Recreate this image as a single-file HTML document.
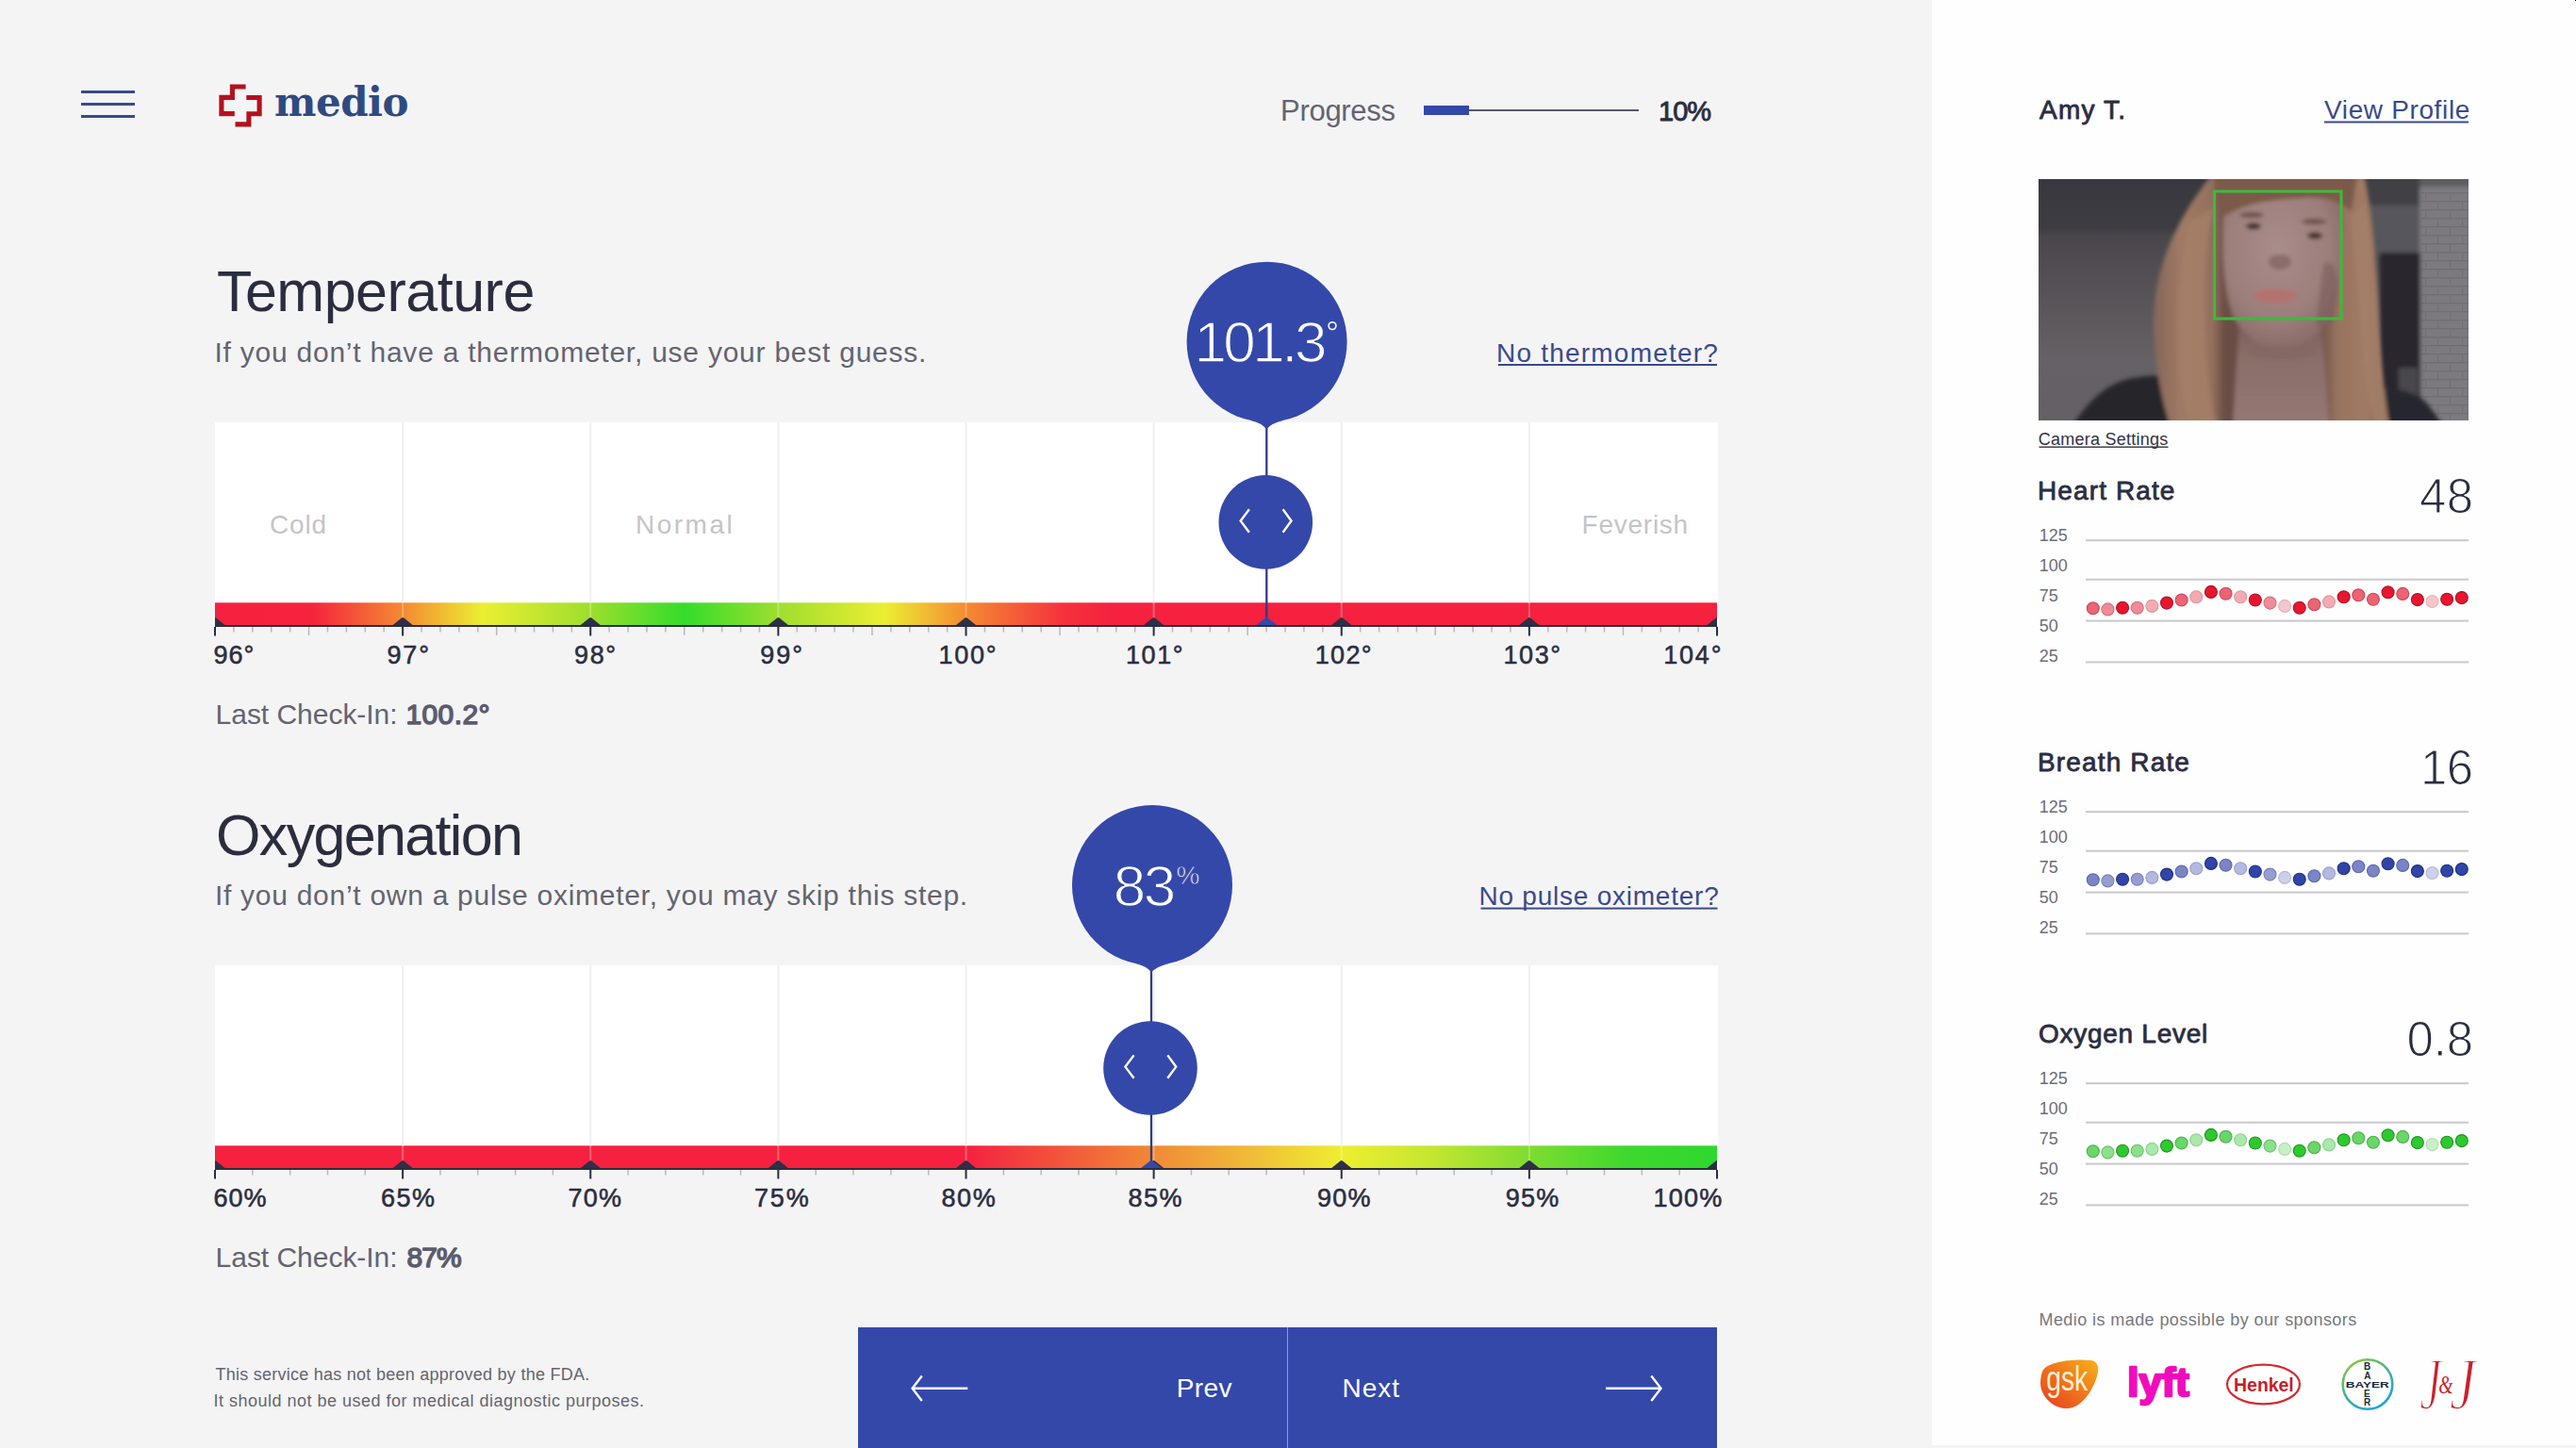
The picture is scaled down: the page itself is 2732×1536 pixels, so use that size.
<!DOCTYPE html>
<html><head><meta charset="utf-8"><title>Medio</title>
<style>html,body{margin:0;padding:0;background:#f4f4f5;} body{width:2732px;height:1536px;overflow:hidden;font-family:"Liberation Sans",sans-serif;} svg{display:block}</style>
</head><body>
<svg width="2732" height="1536" viewBox="0 0 2732 1536">
<rect width='2732' height='1536' fill='#f4f4f5'/>
<rect x='2049' y='0' width='683' height='1533' fill='#fefefe'/>
<rect x='86' y='96' width='57' height='3' fill='#3b4a8a'/>
<rect x='86' y='109' width='57' height='3' fill='#3b4a8a'/>
<rect x='86' y='122' width='57' height='3' fill='#3b4a8a'/>
<g fill='none' stroke='#b3111f' stroke-width='5.1' stroke-linejoin='miter' stroke-linecap='butt'><path d='M260.6,92 H246.4 V103.4 H234.9 V120.6 H248.8'/><path d='M261.3,103.5 H275.1 V120.7 H263.9 V131.9 H249.5'/></g>
<rect x='1510' y='112' width='48' height='10' fill='#3448aa'/>
<rect x='1558' y='116' width='180' height='2' fill='#565966'/>
<rect x='228.0' y='448' width='1594.0' height='215' fill='#ffffff'/><linearGradient id='gT' x1='228.0' x2='1821.0' y1='0' y2='0' gradientUnits='userSpaceOnUse'><stop offset='0' stop-color='#f5213f'/><stop offset='0.065' stop-color='#f5243d'/><stop offset='0.125' stop-color='#f48a32'/><stop offset='0.178' stop-color='#ecee32'/><stop offset='0.25' stop-color='#9ede2e'/><stop offset='0.3125' stop-color='#34dc2b'/><stop offset='0.375' stop-color='#9ede2e'/><stop offset='0.446' stop-color='#ecee32'/><stop offset='0.5' stop-color='#f48a32'/><stop offset='0.565' stop-color='#f5313d'/><stop offset='0.6' stop-color='#f5213f'/><stop offset='1' stop-color='#f5213f'/></linearGradient><rect x='228.0' y='639.3' width='1593.0' height='23.700000000000045' fill='url(#gT)'/><rect x='426.12' y='448' width='2' height='191.3' fill='#efeff2'/><rect x='426.12' y='639.3' width='2' height='17.7' fill='#ffffff' fill-opacity='0.28'/><rect x='625.25' y='448' width='2' height='191.3' fill='#efeff2'/><rect x='625.25' y='639.3' width='2' height='17.7' fill='#ffffff' fill-opacity='0.28'/><rect x='824.38' y='448' width='2' height='191.3' fill='#efeff2'/><rect x='824.38' y='639.3' width='2' height='17.7' fill='#ffffff' fill-opacity='0.28'/><rect x='1023.50' y='448' width='2' height='191.3' fill='#efeff2'/><rect x='1023.50' y='639.3' width='2' height='17.7' fill='#ffffff' fill-opacity='0.28'/><rect x='1222.62' y='448' width='2' height='191.3' fill='#efeff2'/><rect x='1222.62' y='639.3' width='2' height='17.7' fill='#ffffff' fill-opacity='0.28'/><rect x='1421.75' y='448' width='2' height='191.3' fill='#efeff2'/><rect x='1421.75' y='639.3' width='2' height='17.7' fill='#ffffff' fill-opacity='0.28'/><rect x='1620.88' y='448' width='2' height='191.3' fill='#efeff2'/><rect x='1620.88' y='639.3' width='2' height='17.7' fill='#ffffff' fill-opacity='0.28'/><clipPath id='cgT'><rect x='228.0' y='639.3' width='1593.0' height='30'/></clipPath><g clip-path='url(#cgT)' fill='#2d3047'><path d='M217.50,663 L226.80,655.6 Q228.00,654.6 229.20,655.6 L238.50,663 Z'/><path d='M416.62,663 L425.93,655.6 Q427.12,654.6 428.32,655.6 L437.62,663 Z'/><path d='M615.75,663 L625.05,655.6 Q626.25,654.6 627.45,655.6 L636.75,663 Z'/><path d='M814.88,663 L824.17,655.6 Q825.38,654.6 826.58,655.6 L835.88,663 Z'/><path d='M1014.00,663 L1023.30,655.6 Q1024.50,654.6 1025.70,655.6 L1035.00,663 Z'/><path d='M1213.12,663 L1222.42,655.6 Q1223.62,654.6 1224.83,655.6 L1234.12,663 Z'/><path d='M1412.25,663 L1421.55,655.6 Q1422.75,654.6 1423.95,655.6 L1433.25,663 Z'/><path d='M1611.38,663 L1620.67,655.6 Q1621.88,654.6 1623.08,655.6 L1632.38,663 Z'/><path d='M1810.50,663 L1819.80,655.6 Q1821.00,654.6 1822.20,655.6 L1831.50,663 Z'/></g><rect x='228.0' y='663' width='1593.0' height='2' fill='#2b2d42'/><rect x='227.00' y='665' width='2' height='9.5' fill='#2b2d42'/><rect x='247.16' y='665' width='1.5' height='5.5' fill='#b8b8c0'/><rect x='267.07' y='665' width='1.5' height='5.5' fill='#b8b8c0'/><rect x='286.99' y='665' width='1.5' height='5.5' fill='#b8b8c0'/><rect x='306.90' y='665' width='1.5' height='5.5' fill='#b8b8c0'/><rect x='326.81' y='665' width='1.5' height='9' fill='#b8b8c0'/><rect x='346.73' y='665' width='1.5' height='5.5' fill='#b8b8c0'/><rect x='366.64' y='665' width='1.5' height='5.5' fill='#b8b8c0'/><rect x='386.55' y='665' width='1.5' height='5.5' fill='#b8b8c0'/><rect x='406.46' y='665' width='1.5' height='5.5' fill='#b8b8c0'/><rect x='426.12' y='665' width='2' height='9.5' fill='#2b2d42'/><rect x='446.29' y='665' width='1.5' height='5.5' fill='#b8b8c0'/><rect x='466.20' y='665' width='1.5' height='5.5' fill='#b8b8c0'/><rect x='486.11' y='665' width='1.5' height='5.5' fill='#b8b8c0'/><rect x='506.02' y='665' width='1.5' height='5.5' fill='#b8b8c0'/><rect x='525.94' y='665' width='1.5' height='9' fill='#b8b8c0'/><rect x='545.85' y='665' width='1.5' height='5.5' fill='#b8b8c0'/><rect x='565.76' y='665' width='1.5' height='5.5' fill='#b8b8c0'/><rect x='585.67' y='665' width='1.5' height='5.5' fill='#b8b8c0'/><rect x='605.59' y='665' width='1.5' height='5.5' fill='#b8b8c0'/><rect x='625.25' y='665' width='2' height='9.5' fill='#2b2d42'/><rect x='645.41' y='665' width='1.5' height='5.5' fill='#b8b8c0'/><rect x='665.33' y='665' width='1.5' height='5.5' fill='#b8b8c0'/><rect x='685.24' y='665' width='1.5' height='5.5' fill='#b8b8c0'/><rect x='705.15' y='665' width='1.5' height='5.5' fill='#b8b8c0'/><rect x='725.06' y='665' width='1.5' height='9' fill='#b8b8c0'/><rect x='744.98' y='665' width='1.5' height='5.5' fill='#b8b8c0'/><rect x='764.89' y='665' width='1.5' height='5.5' fill='#b8b8c0'/><rect x='784.80' y='665' width='1.5' height='5.5' fill='#b8b8c0'/><rect x='804.71' y='665' width='1.5' height='5.5' fill='#b8b8c0'/><rect x='824.38' y='665' width='2' height='9.5' fill='#2b2d42'/><rect x='844.54' y='665' width='1.5' height='5.5' fill='#b8b8c0'/><rect x='864.45' y='665' width='1.5' height='5.5' fill='#b8b8c0'/><rect x='884.36' y='665' width='1.5' height='5.5' fill='#b8b8c0'/><rect x='904.27' y='665' width='1.5' height='5.5' fill='#b8b8c0'/><rect x='924.19' y='665' width='1.5' height='9' fill='#b8b8c0'/><rect x='944.10' y='665' width='1.5' height='5.5' fill='#b8b8c0'/><rect x='964.01' y='665' width='1.5' height='5.5' fill='#b8b8c0'/><rect x='983.92' y='665' width='1.5' height='5.5' fill='#b8b8c0'/><rect x='1003.84' y='665' width='1.5' height='5.5' fill='#b8b8c0'/><rect x='1023.50' y='665' width='2' height='9.5' fill='#2b2d42'/><rect x='1043.66' y='665' width='1.5' height='5.5' fill='#b8b8c0'/><rect x='1063.58' y='665' width='1.5' height='5.5' fill='#b8b8c0'/><rect x='1083.49' y='665' width='1.5' height='5.5' fill='#b8b8c0'/><rect x='1103.40' y='665' width='1.5' height='5.5' fill='#b8b8c0'/><rect x='1123.31' y='665' width='1.5' height='9' fill='#b8b8c0'/><rect x='1143.22' y='665' width='1.5' height='5.5' fill='#b8b8c0'/><rect x='1163.14' y='665' width='1.5' height='5.5' fill='#b8b8c0'/><rect x='1183.05' y='665' width='1.5' height='5.5' fill='#b8b8c0'/><rect x='1202.96' y='665' width='1.5' height='5.5' fill='#b8b8c0'/><rect x='1222.62' y='665' width='2' height='9.5' fill='#2b2d42'/><rect x='1242.79' y='665' width='1.5' height='5.5' fill='#b8b8c0'/><rect x='1262.70' y='665' width='1.5' height='5.5' fill='#b8b8c0'/><rect x='1282.61' y='665' width='1.5' height='5.5' fill='#b8b8c0'/><rect x='1302.53' y='665' width='1.5' height='5.5' fill='#b8b8c0'/><rect x='1322.44' y='665' width='1.5' height='9' fill='#b8b8c0'/><rect x='1342.35' y='665' width='1.5' height='5.5' fill='#b8b8c0'/><rect x='1362.26' y='665' width='1.5' height='5.5' fill='#b8b8c0'/><rect x='1382.17' y='665' width='1.5' height='5.5' fill='#b8b8c0'/><rect x='1402.09' y='665' width='1.5' height='5.5' fill='#b8b8c0'/><rect x='1421.75' y='665' width='2' height='9.5' fill='#2b2d42'/><rect x='1441.91' y='665' width='1.5' height='5.5' fill='#b8b8c0'/><rect x='1461.83' y='665' width='1.5' height='5.5' fill='#b8b8c0'/><rect x='1481.74' y='665' width='1.5' height='5.5' fill='#b8b8c0'/><rect x='1501.65' y='665' width='1.5' height='5.5' fill='#b8b8c0'/><rect x='1521.56' y='665' width='1.5' height='9' fill='#b8b8c0'/><rect x='1541.47' y='665' width='1.5' height='5.5' fill='#b8b8c0'/><rect x='1561.39' y='665' width='1.5' height='5.5' fill='#b8b8c0'/><rect x='1581.30' y='665' width='1.5' height='5.5' fill='#b8b8c0'/><rect x='1601.21' y='665' width='1.5' height='5.5' fill='#b8b8c0'/><rect x='1620.88' y='665' width='2' height='9.5' fill='#2b2d42'/><rect x='1641.04' y='665' width='1.5' height='5.5' fill='#b8b8c0'/><rect x='1660.95' y='665' width='1.5' height='5.5' fill='#b8b8c0'/><rect x='1680.86' y='665' width='1.5' height='5.5' fill='#b8b8c0'/><rect x='1700.78' y='665' width='1.5' height='5.5' fill='#b8b8c0'/><rect x='1720.69' y='665' width='1.5' height='9' fill='#b8b8c0'/><rect x='1740.60' y='665' width='1.5' height='5.5' fill='#b8b8c0'/><rect x='1760.51' y='665' width='1.5' height='5.5' fill='#b8b8c0'/><rect x='1780.42' y='665' width='1.5' height='5.5' fill='#b8b8c0'/><rect x='1800.34' y='665' width='1.5' height='5.5' fill='#b8b8c0'/><rect x='1820.00' y='665' width='2' height='9.5' fill='#2b2d42'/><rect x='1342.15' y='447.7' width='2.3' height='215.3' fill='#313c82'/><path d='M1332.30,663 L1342.10,655.4 Q1343.30,654.4 1344.50,655.4 L1354.30,663 Z' fill='#3448aa'/><circle cx='1342.30' cy='553.90' r='49.8' fill='#3448aa'/><g fill='none' stroke='#fff' stroke-width='2.4' stroke-linecap='butt' stroke-linejoin='miter'><polyline points='1324.90,540.30 1315.70,552.50 1324.90,564.70'/><polyline points='1360.60,540.30 1369.50,552.50 1360.60,564.70'/></g><circle cx='1343.6' cy='362.7' r='85' fill='#3448aa'/><path d='M1326.6,445.9 Q1338.6,448.7 1343.10,455.29999999999995 Q1348.6,448.7 1360.6,445.9 Z' fill='#3448aa'/>
<rect x='228.0' y='1024' width='1594.0' height='215' fill='#ffffff'/><linearGradient id='gO' x1='228.0' x2='1821.0' y1='0' y2='0' gradientUnits='userSpaceOnUse'><stop offset='0' stop-color='#f5213f'/><stop offset='0.5' stop-color='#f5213f'/><stop offset='0.53' stop-color='#f43a3e'/><stop offset='0.58' stop-color='#f2633a'/><stop offset='0.625' stop-color='#f08a36'/><stop offset='0.69' stop-color='#f0bc38'/><stop offset='0.75' stop-color='#eeee30'/><stop offset='0.81' stop-color='#c4e630'/><stop offset='0.875' stop-color='#7fdc30'/><stop offset='0.94' stop-color='#3ed82e'/><stop offset='1' stop-color='#2ed82e'/></linearGradient><rect x='228.0' y='1215.3' width='1593.0' height='23.700000000000045' fill='url(#gO)'/><rect x='426.12' y='1024' width='2' height='191.3' fill='#efeff2'/><rect x='426.12' y='1215.3' width='2' height='17.7' fill='#ffffff' fill-opacity='0.28'/><rect x='625.25' y='1024' width='2' height='191.3' fill='#efeff2'/><rect x='625.25' y='1215.3' width='2' height='17.7' fill='#ffffff' fill-opacity='0.28'/><rect x='824.38' y='1024' width='2' height='191.3' fill='#efeff2'/><rect x='824.38' y='1215.3' width='2' height='17.7' fill='#ffffff' fill-opacity='0.28'/><rect x='1023.50' y='1024' width='2' height='191.3' fill='#efeff2'/><rect x='1023.50' y='1215.3' width='2' height='17.7' fill='#ffffff' fill-opacity='0.28'/><rect x='1222.62' y='1024' width='2' height='191.3' fill='#efeff2'/><rect x='1222.62' y='1215.3' width='2' height='17.7' fill='#ffffff' fill-opacity='0.28'/><rect x='1421.75' y='1024' width='2' height='191.3' fill='#efeff2'/><rect x='1421.75' y='1215.3' width='2' height='17.7' fill='#ffffff' fill-opacity='0.28'/><rect x='1620.88' y='1024' width='2' height='191.3' fill='#efeff2'/><rect x='1620.88' y='1215.3' width='2' height='17.7' fill='#ffffff' fill-opacity='0.28'/><clipPath id='cgO'><rect x='228.0' y='1215.3' width='1593.0' height='30'/></clipPath><g clip-path='url(#cgO)' fill='#2d3047'><path d='M217.50,1239 L226.80,1231.6 Q228.00,1230.6 229.20,1231.6 L238.50,1239 Z'/><path d='M416.62,1239 L425.93,1231.6 Q427.12,1230.6 428.32,1231.6 L437.62,1239 Z'/><path d='M615.75,1239 L625.05,1231.6 Q626.25,1230.6 627.45,1231.6 L636.75,1239 Z'/><path d='M814.88,1239 L824.17,1231.6 Q825.38,1230.6 826.58,1231.6 L835.88,1239 Z'/><path d='M1014.00,1239 L1023.30,1231.6 Q1024.50,1230.6 1025.70,1231.6 L1035.00,1239 Z'/><path d='M1213.12,1239 L1222.42,1231.6 Q1223.62,1230.6 1224.83,1231.6 L1234.12,1239 Z'/><path d='M1412.25,1239 L1421.55,1231.6 Q1422.75,1230.6 1423.95,1231.6 L1433.25,1239 Z'/><path d='M1611.38,1239 L1620.67,1231.6 Q1621.88,1230.6 1623.08,1231.6 L1632.38,1239 Z'/><path d='M1810.50,1239 L1819.80,1231.6 Q1821.00,1230.6 1822.20,1231.6 L1831.50,1239 Z'/></g><rect x='228.0' y='1239' width='1593.0' height='2' fill='#2b2d42'/><rect x='227.00' y='1241' width='2' height='9.5' fill='#2b2d42'/><rect x='267.07' y='1241' width='1.5' height='5.5' fill='#b8b8c0'/><rect x='306.90' y='1241' width='1.5' height='5.5' fill='#b8b8c0'/><rect x='346.73' y='1241' width='1.5' height='5.5' fill='#b8b8c0'/><rect x='386.55' y='1241' width='1.5' height='5.5' fill='#b8b8c0'/><rect x='426.12' y='1241' width='2' height='9.5' fill='#2b2d42'/><rect x='466.20' y='1241' width='1.5' height='5.5' fill='#b8b8c0'/><rect x='506.02' y='1241' width='1.5' height='5.5' fill='#b8b8c0'/><rect x='545.85' y='1241' width='1.5' height='5.5' fill='#b8b8c0'/><rect x='585.67' y='1241' width='1.5' height='5.5' fill='#b8b8c0'/><rect x='625.25' y='1241' width='2' height='9.5' fill='#2b2d42'/><rect x='665.33' y='1241' width='1.5' height='5.5' fill='#b8b8c0'/><rect x='705.15' y='1241' width='1.5' height='5.5' fill='#b8b8c0'/><rect x='744.98' y='1241' width='1.5' height='5.5' fill='#b8b8c0'/><rect x='784.80' y='1241' width='1.5' height='5.5' fill='#b8b8c0'/><rect x='824.38' y='1241' width='2' height='9.5' fill='#2b2d42'/><rect x='864.45' y='1241' width='1.5' height='5.5' fill='#b8b8c0'/><rect x='904.27' y='1241' width='1.5' height='5.5' fill='#b8b8c0'/><rect x='944.10' y='1241' width='1.5' height='5.5' fill='#b8b8c0'/><rect x='983.92' y='1241' width='1.5' height='5.5' fill='#b8b8c0'/><rect x='1023.50' y='1241' width='2' height='9.5' fill='#2b2d42'/><rect x='1063.58' y='1241' width='1.5' height='5.5' fill='#b8b8c0'/><rect x='1103.40' y='1241' width='1.5' height='5.5' fill='#b8b8c0'/><rect x='1143.22' y='1241' width='1.5' height='5.5' fill='#b8b8c0'/><rect x='1183.05' y='1241' width='1.5' height='5.5' fill='#b8b8c0'/><rect x='1222.62' y='1241' width='2' height='9.5' fill='#2b2d42'/><rect x='1262.70' y='1241' width='1.5' height='5.5' fill='#b8b8c0'/><rect x='1302.53' y='1241' width='1.5' height='5.5' fill='#b8b8c0'/><rect x='1342.35' y='1241' width='1.5' height='5.5' fill='#b8b8c0'/><rect x='1382.17' y='1241' width='1.5' height='5.5' fill='#b8b8c0'/><rect x='1421.75' y='1241' width='2' height='9.5' fill='#2b2d42'/><rect x='1461.83' y='1241' width='1.5' height='5.5' fill='#b8b8c0'/><rect x='1501.65' y='1241' width='1.5' height='5.5' fill='#b8b8c0'/><rect x='1541.47' y='1241' width='1.5' height='5.5' fill='#b8b8c0'/><rect x='1581.30' y='1241' width='1.5' height='5.5' fill='#b8b8c0'/><rect x='1620.88' y='1241' width='2' height='9.5' fill='#2b2d42'/><rect x='1660.95' y='1241' width='1.5' height='5.5' fill='#b8b8c0'/><rect x='1700.78' y='1241' width='1.5' height='5.5' fill='#b8b8c0'/><rect x='1740.60' y='1241' width='1.5' height='5.5' fill='#b8b8c0'/><rect x='1780.42' y='1241' width='1.5' height='5.5' fill='#b8b8c0'/><rect x='1820.00' y='1241' width='2' height='9.5' fill='#2b2d42'/><rect x='1219.85' y='1024.0' width='2.3' height='215.0' fill='#313c82'/><path d='M1210.00,1239 L1219.80,1231.4 Q1221.00,1230.4 1222.20,1231.4 L1232.00,1239 Z' fill='#3448aa'/><circle cx='1220.00' cy='1133.00' r='49.8' fill='#3448aa'/><g fill='none' stroke='#fff' stroke-width='2.4' stroke-linecap='butt' stroke-linejoin='miter'><polyline points='1202.60,1119.40 1193.40,1131.60 1202.60,1143.80'/><polyline points='1238.30,1119.40 1247.20,1131.60 1238.30,1143.80'/></g><circle cx='1222.0' cy='939.0' r='85' fill='#3448aa'/><path d='M1205.0,1022.2 Q1217.0,1025.0 1220.80,1031.6 Q1227.0,1025.0 1239.0,1022.2 Z' fill='#3448aa'/>
<circle cx='1413' cy='345.6' r='3.9' fill='none' stroke='#fff' stroke-width='1.6'/>
<rect x='1589' y='386' width='232' height='2' fill='#3b4a8a'/>
<rect x='1570.5' y='962.6' width='251' height='2' fill='#3b4a8a'/>
<rect x='2465' y='128.5' width='153' height='2' fill='#3b4a8a'/>
<rect x='2162.5' y='473.5' width='137' height='1.4' fill='#333340'/>
<rect x='910' y='1408' width='911' height='128' fill='#3448aa'/>
<rect x='1365' y='1408' width='1' height='128' fill='#8d9ad6'/>
<g fill='none' stroke='#fff' stroke-width='2.4'><path d='M967.5,1472.8 H1026.3'/><polyline points='977.8,1459.6 967.6,1472.8 977.8,1486'/><path d='M1703,1472.7 H1761.5'/><polyline points='1751.3,1459.6 1761.5,1472.7 1751.3,1486'/></g>
<rect x='2212' y='572.2' width='406' height='2' fill='#c9c9cd'/>
<rect x='2212' y='613.7' width='406' height='2' fill='#c9c9cd'/>
<rect x='2212' y='657.6' width='406' height='2' fill='#c9c9cd'/>
<rect x='2212' y='701.4' width='406' height='2' fill='#c9c9cd'/>
<circle cx='2219.80' cy='645.20' r='6.5' fill='#ec6372' stroke='#c44a5e' stroke-width='1.1'/>
<circle cx='2235.44' cy='646.40' r='6.5' fill='#f08b97' stroke='#d4707e' stroke-width='1.1'/>
<circle cx='2251.08' cy='644.80' r='6.5' fill='#e8152d' stroke='#a8162a' stroke-width='1.1'/>
<circle cx='2266.72' cy='644.80' r='6.5' fill='#f08b97' stroke='#d4707e' stroke-width='1.1'/>
<circle cx='2282.36' cy='642.90' r='6.5' fill='#f3abb3' stroke='#dc97a0' stroke-width='1.1'/>
<circle cx='2298.00' cy='639.60' r='6.5' fill='#e8152d' stroke='#a8162a' stroke-width='1.1'/>
<circle cx='2313.64' cy='636.50' r='6.5' fill='#ec6372' stroke='#c44a5e' stroke-width='1.1'/>
<circle cx='2329.28' cy='633.20' r='6.5' fill='#f3abb3' stroke='#dc97a0' stroke-width='1.1'/>
<circle cx='2344.92' cy='627.90' r='6.5' fill='#e8152d' stroke='#a8162a' stroke-width='1.1'/>
<circle cx='2360.56' cy='629.70' r='6.5' fill='#ec6372' stroke='#c44a5e' stroke-width='1.1'/>
<circle cx='2376.20' cy='633.20' r='6.5' fill='#f3abb3' stroke='#dc97a0' stroke-width='1.1'/>
<circle cx='2391.84' cy='636.50' r='6.5' fill='#e8152d' stroke='#a8162a' stroke-width='1.1'/>
<circle cx='2407.48' cy='639.60' r='6.5' fill='#f08b97' stroke='#d4707e' stroke-width='1.1'/>
<circle cx='2423.12' cy='642.90' r='6.5' fill='#f5c6cb' stroke='#e2b4ba' stroke-width='1.1'/>
<circle cx='2438.76' cy='644.80' r='6.5' fill='#e8152d' stroke='#a8162a' stroke-width='1.1'/>
<circle cx='2454.40' cy='641.30' r='6.5' fill='#ec6372' stroke='#c44a5e' stroke-width='1.1'/>
<circle cx='2470.04' cy='638.40' r='6.5' fill='#f3abb3' stroke='#dc97a0' stroke-width='1.1'/>
<circle cx='2485.68' cy='633.20' r='6.5' fill='#e8152d' stroke='#a8162a' stroke-width='1.1'/>
<circle cx='2501.32' cy='631.20' r='6.5' fill='#ec6372' stroke='#c44a5e' stroke-width='1.1'/>
<circle cx='2516.96' cy='635.70' r='6.5' fill='#ec6372' stroke='#c44a5e' stroke-width='1.1'/>
<circle cx='2532.60' cy='628.30' r='6.5' fill='#e8152d' stroke='#a8162a' stroke-width='1.1'/>
<circle cx='2548.24' cy='629.90' r='6.5' fill='#ec6372' stroke='#c44a5e' stroke-width='1.1'/>
<circle cx='2563.88' cy='636.10' r='6.5' fill='#e8152d' stroke='#a8162a' stroke-width='1.1'/>
<circle cx='2579.52' cy='638.00' r='6.5' fill='#f5c6cb' stroke='#e2b4ba' stroke-width='1.1'/>
<circle cx='2595.16' cy='635.70' r='6.5' fill='#e8152d' stroke='#a8162a' stroke-width='1.1'/>
<circle cx='2610.80' cy='634.10' r='6.5' fill='#e8152d' stroke='#a8162a' stroke-width='1.1'/>
<rect x='2212' y='860.2' width='406' height='2' fill='#c9c9cd'/>
<rect x='2212' y='901.7' width='406' height='2' fill='#c9c9cd'/>
<rect x='2212' y='945.6' width='406' height='2' fill='#c9c9cd'/>
<rect x='2212' y='989.4' width='406' height='2' fill='#c9c9cd'/>
<circle cx='2219.80' cy='933.20' r='6.5' fill='#7a85c8' stroke='#5b66a8' stroke-width='1.1'/>
<circle cx='2235.44' cy='934.40' r='6.5' fill='#959dd2' stroke='#7880b8' stroke-width='1.1'/>
<circle cx='2251.08' cy='932.80' r='6.5' fill='#3045a8' stroke='#1f307e' stroke-width='1.1'/>
<circle cx='2266.72' cy='932.80' r='6.5' fill='#959dd2' stroke='#7880b8' stroke-width='1.1'/>
<circle cx='2282.36' cy='930.90' r='6.5' fill='#b4b9df' stroke='#9aa0cc' stroke-width='1.1'/>
<circle cx='2298.00' cy='927.60' r='6.5' fill='#3045a8' stroke='#1f307e' stroke-width='1.1'/>
<circle cx='2313.64' cy='924.50' r='6.5' fill='#7a85c8' stroke='#5b66a8' stroke-width='1.1'/>
<circle cx='2329.28' cy='921.20' r='6.5' fill='#b4b9df' stroke='#9aa0cc' stroke-width='1.1'/>
<circle cx='2344.92' cy='915.90' r='6.5' fill='#3045a8' stroke='#1f307e' stroke-width='1.1'/>
<circle cx='2360.56' cy='917.70' r='6.5' fill='#7a85c8' stroke='#5b66a8' stroke-width='1.1'/>
<circle cx='2376.20' cy='921.20' r='6.5' fill='#b4b9df' stroke='#9aa0cc' stroke-width='1.1'/>
<circle cx='2391.84' cy='924.50' r='6.5' fill='#3045a8' stroke='#1f307e' stroke-width='1.1'/>
<circle cx='2407.48' cy='927.60' r='6.5' fill='#959dd2' stroke='#7880b8' stroke-width='1.1'/>
<circle cx='2423.12' cy='930.90' r='6.5' fill='#cdd0ea' stroke='#b5b9da' stroke-width='1.1'/>
<circle cx='2438.76' cy='932.80' r='6.5' fill='#3045a8' stroke='#1f307e' stroke-width='1.1'/>
<circle cx='2454.40' cy='929.30' r='6.5' fill='#7a85c8' stroke='#5b66a8' stroke-width='1.1'/>
<circle cx='2470.04' cy='926.40' r='6.5' fill='#b4b9df' stroke='#9aa0cc' stroke-width='1.1'/>
<circle cx='2485.68' cy='921.20' r='6.5' fill='#3045a8' stroke='#1f307e' stroke-width='1.1'/>
<circle cx='2501.32' cy='919.20' r='6.5' fill='#7a85c8' stroke='#5b66a8' stroke-width='1.1'/>
<circle cx='2516.96' cy='923.70' r='6.5' fill='#7a85c8' stroke='#5b66a8' stroke-width='1.1'/>
<circle cx='2532.60' cy='916.30' r='6.5' fill='#3045a8' stroke='#1f307e' stroke-width='1.1'/>
<circle cx='2548.24' cy='917.90' r='6.5' fill='#7a85c8' stroke='#5b66a8' stroke-width='1.1'/>
<circle cx='2563.88' cy='924.10' r='6.5' fill='#3045a8' stroke='#1f307e' stroke-width='1.1'/>
<circle cx='2579.52' cy='926.00' r='6.5' fill='#cdd0ea' stroke='#b5b9da' stroke-width='1.1'/>
<circle cx='2595.16' cy='923.70' r='6.5' fill='#3045a8' stroke='#1f307e' stroke-width='1.1'/>
<circle cx='2610.80' cy='922.10' r='6.5' fill='#3045a8' stroke='#1f307e' stroke-width='1.1'/>
<rect x='2212' y='1148.2' width='406' height='2' fill='#c9c9cd'/>
<rect x='2212' y='1189.7' width='406' height='2' fill='#c9c9cd'/>
<rect x='2212' y='1233.6' width='406' height='2' fill='#c9c9cd'/>
<rect x='2212' y='1277.4' width='406' height='2' fill='#c9c9cd'/>
<circle cx='2219.80' cy='1221.20' r='6.5' fill='#69d669' stroke='#4cb04c' stroke-width='1.1'/>
<circle cx='2235.44' cy='1222.40' r='6.5' fill='#8be08b' stroke='#6cc06c' stroke-width='1.1'/>
<circle cx='2251.08' cy='1220.80' r='6.5' fill='#2ec92e' stroke='#1f961f' stroke-width='1.1'/>
<circle cx='2266.72' cy='1220.80' r='6.5' fill='#8be08b' stroke='#6cc06c' stroke-width='1.1'/>
<circle cx='2282.36' cy='1218.90' r='6.5' fill='#abe8ab' stroke='#90d090' stroke-width='1.1'/>
<circle cx='2298.00' cy='1215.60' r='6.5' fill='#2ec92e' stroke='#1f961f' stroke-width='1.1'/>
<circle cx='2313.64' cy='1212.50' r='6.5' fill='#69d669' stroke='#4cb04c' stroke-width='1.1'/>
<circle cx='2329.28' cy='1209.20' r='6.5' fill='#abe8ab' stroke='#90d090' stroke-width='1.1'/>
<circle cx='2344.92' cy='1203.90' r='6.5' fill='#2ec92e' stroke='#1f961f' stroke-width='1.1'/>
<circle cx='2360.56' cy='1205.70' r='6.5' fill='#69d669' stroke='#4cb04c' stroke-width='1.1'/>
<circle cx='2376.20' cy='1209.20' r='6.5' fill='#abe8ab' stroke='#90d090' stroke-width='1.1'/>
<circle cx='2391.84' cy='1212.50' r='6.5' fill='#2ec92e' stroke='#1f961f' stroke-width='1.1'/>
<circle cx='2407.48' cy='1215.60' r='6.5' fill='#8be08b' stroke='#6cc06c' stroke-width='1.1'/>
<circle cx='2423.12' cy='1218.90' r='6.5' fill='#c8efc8' stroke='#b0deb0' stroke-width='1.1'/>
<circle cx='2438.76' cy='1220.80' r='6.5' fill='#2ec92e' stroke='#1f961f' stroke-width='1.1'/>
<circle cx='2454.40' cy='1217.30' r='6.5' fill='#69d669' stroke='#4cb04c' stroke-width='1.1'/>
<circle cx='2470.04' cy='1214.40' r='6.5' fill='#abe8ab' stroke='#90d090' stroke-width='1.1'/>
<circle cx='2485.68' cy='1209.20' r='6.5' fill='#2ec92e' stroke='#1f961f' stroke-width='1.1'/>
<circle cx='2501.32' cy='1207.20' r='6.5' fill='#69d669' stroke='#4cb04c' stroke-width='1.1'/>
<circle cx='2516.96' cy='1211.70' r='6.5' fill='#69d669' stroke='#4cb04c' stroke-width='1.1'/>
<circle cx='2532.60' cy='1204.30' r='6.5' fill='#2ec92e' stroke='#1f961f' stroke-width='1.1'/>
<circle cx='2548.24' cy='1205.90' r='6.5' fill='#69d669' stroke='#4cb04c' stroke-width='1.1'/>
<circle cx='2563.88' cy='1212.10' r='6.5' fill='#2ec92e' stroke='#1f961f' stroke-width='1.1'/>
<circle cx='2579.52' cy='1214.00' r='6.5' fill='#c8efc8' stroke='#b0deb0' stroke-width='1.1'/>
<circle cx='2595.16' cy='1211.70' r='6.5' fill='#2ec92e' stroke='#1f961f' stroke-width='1.1'/>
<circle cx='2610.80' cy='1210.10' r='6.5' fill='#2ec92e' stroke='#1f961f' stroke-width='1.1'/>

<clipPath id='phc'><rect x='2162' y='190' width='456' height='256'/></clipPath>
<linearGradient id='phbg' x1='0' y1='0' x2='0' y2='1'><stop offset='0' stop-color='#39383e'/><stop offset='0.2' stop-color='#3d3c42'/><stop offset='0.24' stop-color='#4a474c'/><stop offset='0.5' stop-color='#585458'/><stop offset='0.75' stop-color='#656165'/><stop offset='1' stop-color='#636066'/></linearGradient>
<linearGradient id='hairg' x1='0' y1='0' x2='1' y2='0'><stop offset='0' stop-color='#84665a'/><stop offset='0.12' stop-color='#a07a64'/><stop offset='0.25' stop-color='#93705e'/><stop offset='0.3' stop-color='#6a4e44'/><stop offset='0.7' stop-color='#6a4e44'/><stop offset='0.78' stop-color='#98735f'/><stop offset='0.9' stop-color='#a07a64'/><stop offset='1' stop-color='#826458'/></linearGradient>
<radialGradient id='faceg' cx='0.45' cy='0.4' r='0.6'><stop offset='0' stop-color='#a98d8a'/><stop offset='0.7' stop-color='#9c7e7b'/><stop offset='1' stop-color='#8a6c69'/></radialGradient>
<filter id='phb' x='-10%' y='-10%' width='120%' height='120%'><feGaussianBlur stdDeviation='2.2'/></filter>
<g clip-path='url(#phc)'>
<rect x='2162' y='190' width='456' height='256' fill='url(#phbg)'/>
<g transform='translate(2162,190)'>
<g filter='url(#phb)'>
<rect x='330' y='-10' width='80' height='40' fill='#403f45'/>
<rect x='330' y='28' width='80' height='52' fill='#57565c'/>
<rect x='404' y='-10' width='60' height='280' fill='#7b7a7e'/>
<rect x='404' y='-10' width='60' height='18' fill='#5d5c61'/>
<rect x='362' y='78' width='43' height='190' fill='#29282e'/>
<rect x='382' y='200' width='20' height='40' fill='#4a494e'/>
</g>
<g opacity='0.55'><rect x='406' y='14' width='50' height='1.3' fill='#66656a'/><rect x='406' y='23' width='50' height='1.3' fill='#66656a'/><rect x='406' y='32' width='50' height='1.3' fill='#66656a'/><rect x='406' y='41' width='50' height='1.3' fill='#66656a'/><rect x='406' y='50' width='50' height='1.3' fill='#66656a'/><rect x='406' y='59' width='50' height='1.3' fill='#66656a'/><rect x='406' y='68' width='50' height='1.3' fill='#66656a'/><rect x='406' y='77' width='50' height='1.3' fill='#66656a'/><rect x='406' y='86' width='50' height='1.3' fill='#66656a'/><rect x='406' y='95' width='50' height='1.3' fill='#66656a'/><rect x='406' y='104' width='50' height='1.3' fill='#66656a'/><rect x='406' y='113' width='50' height='1.3' fill='#66656a'/><rect x='406' y='122' width='50' height='1.3' fill='#66656a'/><rect x='406' y='131' width='50' height='1.3' fill='#66656a'/><rect x='406' y='140' width='50' height='1.3' fill='#66656a'/><rect x='406' y='149' width='50' height='1.3' fill='#66656a'/><rect x='406' y='158' width='50' height='1.3' fill='#66656a'/><rect x='406' y='167' width='50' height='1.3' fill='#66656a'/><rect x='406' y='176' width='50' height='1.3' fill='#66656a'/><rect x='406' y='185' width='50' height='1.3' fill='#66656a'/><rect x='406' y='194' width='50' height='1.3' fill='#66656a'/><rect x='406' y='203' width='50' height='1.3' fill='#66656a'/><rect x='406' y='212' width='50' height='1.3' fill='#66656a'/><rect x='406' y='221' width='50' height='1.3' fill='#66656a'/><rect x='406' y='230' width='50' height='1.3' fill='#66656a'/><rect x='406' y='239' width='50' height='1.3' fill='#66656a'/><rect x='406' y='248' width='50' height='1.3' fill='#66656a'/><rect x='410' y='14' width='1.2' height='9' fill='#6a696e'/><rect x='436' y='14' width='1.2' height='9' fill='#6a696e'/><rect x='423' y='23' width='1.2' height='9' fill='#6a696e'/><rect x='449' y='23' width='1.2' height='9' fill='#6a696e'/><rect x='410' y='32' width='1.2' height='9' fill='#6a696e'/><rect x='436' y='32' width='1.2' height='9' fill='#6a696e'/><rect x='423' y='41' width='1.2' height='9' fill='#6a696e'/><rect x='449' y='41' width='1.2' height='9' fill='#6a696e'/><rect x='410' y='50' width='1.2' height='9' fill='#6a696e'/><rect x='436' y='50' width='1.2' height='9' fill='#6a696e'/><rect x='423' y='59' width='1.2' height='9' fill='#6a696e'/><rect x='449' y='59' width='1.2' height='9' fill='#6a696e'/><rect x='410' y='68' width='1.2' height='9' fill='#6a696e'/><rect x='436' y='68' width='1.2' height='9' fill='#6a696e'/><rect x='423' y='77' width='1.2' height='9' fill='#6a696e'/><rect x='449' y='77' width='1.2' height='9' fill='#6a696e'/><rect x='410' y='86' width='1.2' height='9' fill='#6a696e'/><rect x='436' y='86' width='1.2' height='9' fill='#6a696e'/><rect x='423' y='95' width='1.2' height='9' fill='#6a696e'/><rect x='449' y='95' width='1.2' height='9' fill='#6a696e'/><rect x='410' y='104' width='1.2' height='9' fill='#6a696e'/><rect x='436' y='104' width='1.2' height='9' fill='#6a696e'/><rect x='423' y='113' width='1.2' height='9' fill='#6a696e'/><rect x='449' y='113' width='1.2' height='9' fill='#6a696e'/><rect x='410' y='122' width='1.2' height='9' fill='#6a696e'/><rect x='436' y='122' width='1.2' height='9' fill='#6a696e'/><rect x='423' y='131' width='1.2' height='9' fill='#6a696e'/><rect x='449' y='131' width='1.2' height='9' fill='#6a696e'/><rect x='410' y='140' width='1.2' height='9' fill='#6a696e'/><rect x='436' y='140' width='1.2' height='9' fill='#6a696e'/><rect x='423' y='149' width='1.2' height='9' fill='#6a696e'/><rect x='449' y='149' width='1.2' height='9' fill='#6a696e'/><rect x='410' y='158' width='1.2' height='9' fill='#6a696e'/><rect x='436' y='158' width='1.2' height='9' fill='#6a696e'/><rect x='423' y='167' width='1.2' height='9' fill='#6a696e'/><rect x='449' y='167' width='1.2' height='9' fill='#6a696e'/><rect x='410' y='176' width='1.2' height='9' fill='#6a696e'/><rect x='436' y='176' width='1.2' height='9' fill='#6a696e'/><rect x='423' y='185' width='1.2' height='9' fill='#6a696e'/><rect x='449' y='185' width='1.2' height='9' fill='#6a696e'/><rect x='410' y='194' width='1.2' height='9' fill='#6a696e'/><rect x='436' y='194' width='1.2' height='9' fill='#6a696e'/><rect x='423' y='203' width='1.2' height='9' fill='#6a696e'/><rect x='449' y='203' width='1.2' height='9' fill='#6a696e'/><rect x='410' y='212' width='1.2' height='9' fill='#6a696e'/><rect x='436' y='212' width='1.2' height='9' fill='#6a696e'/><rect x='423' y='221' width='1.2' height='9' fill='#6a696e'/><rect x='449' y='221' width='1.2' height='9' fill='#6a696e'/><rect x='410' y='230' width='1.2' height='9' fill='#6a696e'/><rect x='436' y='230' width='1.2' height='9' fill='#6a696e'/><rect x='423' y='239' width='1.2' height='9' fill='#6a696e'/><rect x='449' y='239' width='1.2' height='9' fill='#6a696e'/><rect x='410' y='248' width='1.2' height='9' fill='#6a696e'/><rect x='436' y='248' width='1.2' height='9' fill='#6a696e'/></g>
<g filter='url(#phb)'>
<path d='M36,262 C52,236 72,216 100,211 C130,205 165,210 195,222 L222,262 Z' fill='#26252c'/>
<path d='M292,262 C305,240 330,228 360,224 C385,221 402,228 412,238 L430,262 Z' fill='#28272e'/>
<path d='M184,-5 L345,-5 C356,40 360,110 362,170 C365,215 369,240 372,262 L300,262 L300,210 L218,210 L206,262 L140,262 C130,235 121,185 122,145 C124,100 140,50 184,-5 Z' fill='url(#hairg)'/>
<path d='M160,45 C148,95 146,160 150,210 C153,235 158,250 162,262 L190,262 C180,230 176,180 176,120 C176,80 180,50 186,30 Z' fill='#a68068' opacity='0.8'/>
<path d='M330,40 C338,100 342,170 348,220 C351,240 355,252 358,262 L372,262 C367,230 362,180 358,120 C355,80 352,50 346,25 Z' fill='#a68068' opacity='0.75'/>
<linearGradient id='neckg' x1='0' y1='0' x2='0' y2='1'><stop offset='0' stop-color='#765c58'/><stop offset='0.35' stop-color='#8a6e6a'/><stop offset='1' stop-color='#957874'/></linearGradient><path d='M206,262 L213,150 L300,150 L308,262 Z' fill='url(#neckg)'/>
<path d='M196,40 C196,12 230,4 262,4 C298,4 324,14 324,46 C324,96 318,140 300,160 C286,176 270,180 258,180 C240,180 222,170 210,152 C198,132 194,90 196,40 Z' fill='url(#faceg)'/>
<path d='M186,-5 L338,-5 L332,34 C318,22 300,18 280,20 C250,22 222,24 200,38 L190,40 Z' fill='#7c5a4a'/>
<ellipse cx='258' cy='184' rx='36' ry='8' fill='#7c605e' opacity='0.3'/>
<ellipse cx='226' cy='38' rx='13' ry='3' fill='#6c4e46'/>
<ellipse cx='292' cy='45' rx='13' ry='3' fill='#6c4e46'/>
<ellipse cx='228' cy='50' rx='8' ry='3.4' fill='#3a2d2e'/>
<ellipse cx='293' cy='60' rx='8' ry='3.4' fill='#3a2d2e'/>
<ellipse cx='256' cy='88' rx='12' ry='8' fill='#8a6c6a'/>
<ellipse cx='251' cy='124' rx='23' ry='8' fill='#b2736f'/>
<path d='M302,90 C318,80 322,120 312,150 C300,165 292,160 296,140 Z' fill='#7a5e5c' opacity='0.6'/>
</g>
</g>
<rect x='2348.5' y='203' width='134.5' height='135' fill='none' stroke='#3bbb3b' stroke-width='3.1'/>
</g>
<linearGradient id='gskg' x1='0' y1='1' x2='1' y2='0'><stop offset='0' stop-color='#e63c1f'/><stop offset='0.55' stop-color='#f07a1c'/><stop offset='1' stop-color='#f7b21a'/></linearGradient>
<path d='M2166,1455 C2170,1444 2200,1441 2218,1443 C2229,1445 2226,1460 2218,1474 C2210,1488 2200,1495 2190,1494 C2176,1493 2164,1480 2164,1467 C2164,1462 2165,1458 2166,1455 Z' fill='url(#gskg)'/>
<ellipse cx='2400.5' cy='1468.5' rx='38.5' ry='20.8' fill='#fff' stroke='#d42a2f' stroke-width='2.2'/>
<linearGradient id='bayg' x1='0.2' y1='0' x2='0.8' y2='1'><stop offset='0' stop-color='#8cc63f'/><stop offset='0.5' stop-color='#3fb39a'/><stop offset='1' stop-color='#1aa0e0'/></linearGradient>
<circle cx='2511' cy='1468.5' r='26.3' fill='#fff' stroke='url(#bayg)' stroke-width='2.6'/>

<text x='1358.00' y='128.00' font-family="Liberation Sans, sans-serif" font-size='31' font-weight='400' fill='#64646f' style='letter-spacing:-0.286px;'>Progress</text>
<text x='1759.00' y='128.00' font-family="Liberation Sans, sans-serif" font-size='29' font-weight='400' fill='#2b2d3f' style='letter-spacing:-1.000px;stroke:#2b2d3f;stroke-width:0.9px;stroke-linejoin:round;'>10%</text>
<text x='291.00' y='123.00' font-family="DejaVu Serif, sans-serif" font-size='42' font-weight='700' fill='#2f4a80' style='letter-spacing:-0.500px;'>medio</text>
<text x='229.90' y='330.10' font-family="Liberation Sans, sans-serif" font-size='61' font-weight='400' fill='#2b2d3f' style='letter-spacing:-0.500px;'>Temperature</text>
<text x='227.50' y='384.00' font-family="Liberation Sans, sans-serif" font-size='30' font-weight='400' fill='#64646f' style='letter-spacing:0.760px;'>If you don’t have a thermometer, use your best guess.</text>
<text x='1587.00' y='383.60' font-family="Liberation Sans, sans-serif" font-size='28' font-weight='400' fill='#3b4a8a' style='letter-spacing:1.214px;'>No thermometer?</text>
<text x='1266.40' y='384.00' font-family="Liberation Sans, sans-serif" font-size='62' font-weight='400' fill='#ffffff' style='letter-spacing:-3.500px;stroke:#3448aa;stroke-width:1.3px;stroke-linejoin:round;'>101.3</text>
<text x='286.00' y='566.00' font-family="Liberation Sans, sans-serif" font-size='28' font-weight='400' fill='#c4c4c8' style='letter-spacing:0.867px;'>Cold</text>
<text x='674.00' y='566.00' font-family="Liberation Sans, sans-serif" font-size='28' font-weight='400' fill='#c4c4c8' style='letter-spacing:2.500px;'>Normal</text>
<text x='1677.60' y='565.70' font-family="Liberation Sans, sans-serif" font-size='28' font-weight='400' fill='#c4c4c8' style='letter-spacing:0.743px;'>Feverish</text>
<text x='226.50' y='703.60' font-family="Liberation Sans, sans-serif" font-size='27' font-weight='400' fill='#2b2d3f' style='letter-spacing:1.000px;stroke:#2b2d3f;stroke-width:0.55px;stroke-linejoin:round;'>96°</text>
<text x='410.40' y='703.60' font-family="Liberation Sans, sans-serif" font-size='27' font-weight='400' fill='#2b2d3f' style='letter-spacing:1.950px;stroke:#2b2d3f;stroke-width:0.55px;stroke-linejoin:round;'>97°</text>
<text x='609.00' y='703.60' font-family="Liberation Sans, sans-serif" font-size='27' font-weight='400' fill='#2b2d3f' style='letter-spacing:1.650px;stroke:#2b2d3f;stroke-width:0.55px;stroke-linejoin:round;'>98°</text>
<text x='806.30' y='703.60' font-family="Liberation Sans, sans-serif" font-size='27' font-weight='400' fill='#2b2d3f' style='letter-spacing:1.950px;stroke:#2b2d3f;stroke-width:0.55px;stroke-linejoin:round;'>99°</text>
<text x='995.60' y='703.60' font-family="Liberation Sans, sans-serif" font-size='27' font-weight='400' fill='#2b2d3f' style='letter-spacing:1.733px;stroke:#2b2d3f;stroke-width:0.55px;stroke-linejoin:round;'>100°</text>
<text x='1194.00' y='703.60' font-family="Liberation Sans, sans-serif" font-size='27' font-weight='400' fill='#2b2d3f' style='letter-spacing:1.600px;stroke:#2b2d3f;stroke-width:0.55px;stroke-linejoin:round;'>101°</text>
<text x='1394.70' y='703.60' font-family="Liberation Sans, sans-serif" font-size='27' font-weight='400' fill='#2b2d3f' style='letter-spacing:1.333px;stroke:#2b2d3f;stroke-width:0.55px;stroke-linejoin:round;'>102°</text>
<text x='1594.50' y='703.60' font-family="Liberation Sans, sans-serif" font-size='27' font-weight='400' fill='#2b2d3f' style='letter-spacing:1.567px;stroke:#2b2d3f;stroke-width:0.55px;stroke-linejoin:round;'>103°</text>
<text x='1764.30' y='703.60' font-family="Liberation Sans, sans-serif" font-size='27' font-weight='400' fill='#2b2d3f' style='letter-spacing:1.767px;stroke:#2b2d3f;stroke-width:0.55px;stroke-linejoin:round;'>104°</text>
<text x='228.60' y='767.70' font-family="Liberation Sans, sans-serif" font-size='30' font-weight='400' fill='#64646f' style='letter-spacing:-0.031px;'>Last Check-In:</text>
<text x='430.40' y='767.70' font-family="Liberation Sans, sans-serif" font-size='30' font-weight='400' fill='#5c5c6e' style='letter-spacing:0.400px;stroke:#5c5c6e;stroke-width:1.5px;stroke-linejoin:round;'>100.2°</text>
<text x='229.00' y='907.00' font-family="Liberation Sans, sans-serif" font-size='61' font-weight='400' fill='#2b2d3f' style='letter-spacing:-1.660px;'>Oxygenation</text>
<text x='227.90' y='959.90' font-family="Liberation Sans, sans-serif" font-size='30' font-weight='400' fill='#64646f' style='letter-spacing:0.723px;'>If you don’t own a pulse oximeter, you may skip this step.</text>
<text x='1568.50' y='960.20' font-family="Liberation Sans, sans-serif" font-size='28' font-weight='400' fill='#3b4a8a' style='letter-spacing:0.765px;'>No pulse oximeter?</text>
<text x='1180.70' y='960.70' font-family="Liberation Sans, sans-serif" font-size='62' font-weight='400' fill='#ffffff' style='letter-spacing:-2.300px;stroke:#3448aa;stroke-width:1.3px;stroke-linejoin:round;'>83</text>
<text x='1247.60' y='938.40' font-family="Liberation Sans, sans-serif" font-size='28' font-weight='400' fill='#ffffff' style='stroke:#3448aa;stroke-width:0.8px;stroke-linejoin:round;'>%</text>
<text x='226.50' y='1279.60' font-family="Liberation Sans, sans-serif" font-size='27' font-weight='400' fill='#2b2d3f' style='letter-spacing:0.950px;stroke:#2b2d3f;stroke-width:0.55px;stroke-linejoin:round;'>60%</text>
<text x='404.00' y='1279.60' font-family="Liberation Sans, sans-serif" font-size='27' font-weight='400' fill='#2b2d3f' style='letter-spacing:1.500px;stroke:#2b2d3f;stroke-width:0.55px;stroke-linejoin:round;'>65%</text>
<text x='602.60' y='1279.60' font-family="Liberation Sans, sans-serif" font-size='27' font-weight='400' fill='#2b2d3f' style='letter-spacing:1.200px;stroke:#2b2d3f;stroke-width:0.55px;stroke-linejoin:round;'>70%</text>
<text x='800.00' y='1279.60' font-family="Liberation Sans, sans-serif" font-size='27' font-weight='400' fill='#2b2d3f' style='letter-spacing:1.800px;stroke:#2b2d3f;stroke-width:0.55px;stroke-linejoin:round;'>75%</text>
<text x='998.50' y='1279.60' font-family="Liberation Sans, sans-serif" font-size='27' font-weight='400' fill='#2b2d3f' style='letter-spacing:1.550px;stroke:#2b2d3f;stroke-width:0.55px;stroke-linejoin:round;'>80%</text>
<text x='1196.40' y='1279.60' font-family="Liberation Sans, sans-serif" font-size='27' font-weight='400' fill='#2b2d3f' style='letter-spacing:1.550px;stroke:#2b2d3f;stroke-width:0.55px;stroke-linejoin:round;'>85%</text>
<text x='1397.00' y='1279.60' font-family="Liberation Sans, sans-serif" font-size='27' font-weight='400' fill='#2b2d3f' style='letter-spacing:1.200px;stroke:#2b2d3f;stroke-width:0.55px;stroke-linejoin:round;'>90%</text>
<text x='1596.80' y='1279.60' font-family="Liberation Sans, sans-serif" font-size='27' font-weight='400' fill='#2b2d3f' style='letter-spacing:1.250px;stroke:#2b2d3f;stroke-width:0.55px;stroke-linejoin:round;'>95%</text>
<text x='1753.40' y='1279.60' font-family="Liberation Sans, sans-serif" font-size='27' font-weight='400' fill='#2b2d3f' style='letter-spacing:1.267px;stroke:#2b2d3f;stroke-width:0.55px;stroke-linejoin:round;'>100%</text>
<text x='228.60' y='1343.70' font-family="Liberation Sans, sans-serif" font-size='30' font-weight='400' fill='#64646f' style='letter-spacing:-0.031px;'>Last Check-In:</text>
<text x='431.40' y='1343.70' font-family="Liberation Sans, sans-serif" font-size='30' font-weight='400' fill='#5c5c6e' style='letter-spacing:-0.900px;stroke:#5c5c6e;stroke-width:1.5px;stroke-linejoin:round;'>87%</text>
<text x='228.40' y='1464.00' font-family="Liberation Sans, sans-serif" font-size='18' font-weight='400' fill='#64646f' style='letter-spacing:0.258px;'>This service has not been approved by the FDA.</text>
<text x='226.40' y='1491.50' font-family="Liberation Sans, sans-serif" font-size='18' font-weight='400' fill='#64646f' style='letter-spacing:0.496px;'>It should not be used for medical diagnostic purposes.</text>
<text x='1247.80' y='1481.80' font-family="Liberation Sans, sans-serif" font-size='28' font-weight='400' fill='#ffffff' style='letter-spacing:0.400px;'>Prev</text>
<text x='1423.60' y='1482.00' font-family="Liberation Sans, sans-serif" font-size='28' font-weight='400' fill='#ffffff' style='letter-spacing:0.967px;'>Next</text>
<text x='2163.00' y='126.00' font-family="Liberation Sans, sans-serif" font-size='28' font-weight='400' fill='#2b2d3f' style='letter-spacing:1.200px;stroke:#2b2d3f;stroke-width:0.8px;stroke-linejoin:round;'>Amy T.</text>
<text x='2465.00' y='126.20' font-family="Liberation Sans, sans-serif" font-size='28' font-weight='400' fill='#3b4a8a' style='letter-spacing:0.636px;'>View Profile</text>
<text x='2161.80' y='471.70' font-family="Liberation Sans, sans-serif" font-size='18' font-weight='400' fill='#333340' style='letter-spacing:0.243px;'>Camera Settings</text>
<text x='2161.00' y='530.00' font-family="Liberation Sans, sans-serif" font-size='28' font-weight='400' fill='#2b2d3f' style='letter-spacing:1.111px;stroke:#2b2d3f;stroke-width:0.8px;stroke-linejoin:round;'>Heart Rate</text>
<text x='2566.00' y='544.00' font-family="Liberation Sans, sans-serif" font-size='51' font-weight='400' fill='#2b2d3f' style='letter-spacing:0.300px;stroke:#fefefe;stroke-width:1.2px;stroke-linejoin:round;'>48</text>
<text x='2162.70' y='574.00' font-family="Liberation Sans, sans-serif" font-size='18' font-weight='400' fill='#6d6d75' style=''>125</text>
<text x='2162.70' y='606.00' font-family="Liberation Sans, sans-serif" font-size='18' font-weight='400' fill='#6d6d75' style=''>100</text>
<text x='2162.70' y='637.80' font-family="Liberation Sans, sans-serif" font-size='18' font-weight='400' fill='#6d6d75' style=''>75</text>
<text x='2162.70' y='669.90' font-family="Liberation Sans, sans-serif" font-size='18' font-weight='400' fill='#6d6d75' style=''>50</text>
<text x='2162.70' y='701.70' font-family="Liberation Sans, sans-serif" font-size='18' font-weight='400' fill='#6d6d75' style=''>25</text>
<text x='2161.00' y='818.00' font-family="Liberation Sans, sans-serif" font-size='28' font-weight='400' fill='#2b2d3f' style='letter-spacing:1.150px;stroke:#2b2d3f;stroke-width:0.8px;stroke-linejoin:round;'>Breath Rate</text>
<text x='2567.00' y='832.00' font-family="Liberation Sans, sans-serif" font-size='51' font-weight='400' fill='#2b2d3f' style='letter-spacing:-0.700px;stroke:#fefefe;stroke-width:1.2px;stroke-linejoin:round;'>16</text>
<text x='2162.70' y='862.00' font-family="Liberation Sans, sans-serif" font-size='18' font-weight='400' fill='#6d6d75' style=''>125</text>
<text x='2162.70' y='894.00' font-family="Liberation Sans, sans-serif" font-size='18' font-weight='400' fill='#6d6d75' style=''>100</text>
<text x='2162.70' y='925.80' font-family="Liberation Sans, sans-serif" font-size='18' font-weight='400' fill='#6d6d75' style=''>75</text>
<text x='2162.70' y='957.90' font-family="Liberation Sans, sans-serif" font-size='18' font-weight='400' fill='#6d6d75' style=''>50</text>
<text x='2162.70' y='989.70' font-family="Liberation Sans, sans-serif" font-size='18' font-weight='400' fill='#6d6d75' style=''>25</text>
<text x='2162.00' y='1106.00' font-family="Liberation Sans, sans-serif" font-size='28' font-weight='400' fill='#2b2d3f' style='letter-spacing:0.727px;stroke:#2b2d3f;stroke-width:0.8px;stroke-linejoin:round;'>Oxygen Level</text>
<text x='2552.40' y='1120.00' font-family="Liberation Sans, sans-serif" font-size='51' font-weight='400' fill='#2b2d3f' style='letter-spacing:-0.050px;stroke:#fefefe;stroke-width:1.2px;stroke-linejoin:round;'>0.8</text>
<text x='2162.70' y='1150.00' font-family="Liberation Sans, sans-serif" font-size='18' font-weight='400' fill='#6d6d75' style=''>125</text>
<text x='2162.70' y='1182.00' font-family="Liberation Sans, sans-serif" font-size='18' font-weight='400' fill='#6d6d75' style=''>100</text>
<text x='2162.70' y='1213.80' font-family="Liberation Sans, sans-serif" font-size='18' font-weight='400' fill='#6d6d75' style=''>75</text>
<text x='2162.70' y='1245.90' font-family="Liberation Sans, sans-serif" font-size='18' font-weight='400' fill='#6d6d75' style=''>50</text>
<text x='2162.70' y='1277.70' font-family="Liberation Sans, sans-serif" font-size='18' font-weight='400' fill='#6d6d75' style=''>25</text>
<text x='2162.50' y='1405.80' font-family="Liberation Sans, sans-serif" font-size='18' font-weight='400' fill='#77777f' style='letter-spacing:0.419px;'>Medio is made possible by our sponsors</text>
<text transform='translate(2170.17,1474.50) scale(0.8308,1.0710)' x='0' y='0' font-family="Liberation Sans, sans-serif" font-size='34' font-weight='400' fill='#fdefd4' style=''>gsk</text>
<text transform='translate(2256.31,1481.44) scale(1.0932,1.0625)' x='0' y='0' font-family="Liberation Sans, sans-serif" font-size='40' font-weight='700' fill='#f00cbc' style='stroke:#f00cbc;stroke-width:2.4px;stroke-linejoin:round;'>lyft</text>
<text transform='translate(2369.07,1475.60) scale(0.9254,0.9867)' x='0' y='0' font-family="Liberation Sans, sans-serif" font-size='21' font-weight='700' fill='#c41e2a' style=''>Henkel</text>
<text transform='translate(2487.65,1472.30) scale(1.3545,0.8250)' x='0' y='0' font-family="Liberation Sans, sans-serif" font-size='10' font-weight='700' fill='#152a40' style=''>BAYER</text>
<text x='2507.00' y='1453.40' font-family="Liberation Sans, sans-serif" font-size='10' font-weight='700' fill='#152a40' style=''>B</text>
<text x='2507.30' y='1463.00' font-family="Liberation Sans, sans-serif" font-size='10' font-weight='700' fill='#152a40' style=''>A</text>
<text x='2507.00' y='1481.70' font-family="Liberation Sans, sans-serif" font-size='10' font-weight='700' fill='#152a40' style=''>E</text>
<text x='2507.00' y='1491.00' font-family="Liberation Sans, sans-serif" font-size='10' font-weight='700' fill='#152a40' style=''>R</text>
<text transform='translate(2566.27,1494.00) scale(0.8636,1.3158)' x='0' y='0' font-family="Liberation Serif, sans-serif" font-size='60' font-weight='400' fill='#cc1f2b' style='font-style:italic;stroke:#fefefe;stroke-width:1.6px;'>J</text>
<text transform='translate(2586.18,1478.00) scale(0.8235,1.1333)' x='0' y='0' font-family="Liberation Serif, sans-serif" font-size='24' font-weight='400' fill='#cc1f2b' style='font-style:italic;'>&amp;</text>
<text transform='translate(2597.87,1494.00) scale(1.0636,1.3158)' x='0' y='0' font-family="Liberation Serif, sans-serif" font-size='60' font-weight='400' fill='#cc1f2b' style='font-style:italic;stroke:#fefefe;stroke-width:1.6px;'>J</text>
<rect x='2731' y='0' width='1' height='1' fill='#111'/>
</svg>
</body></html>
